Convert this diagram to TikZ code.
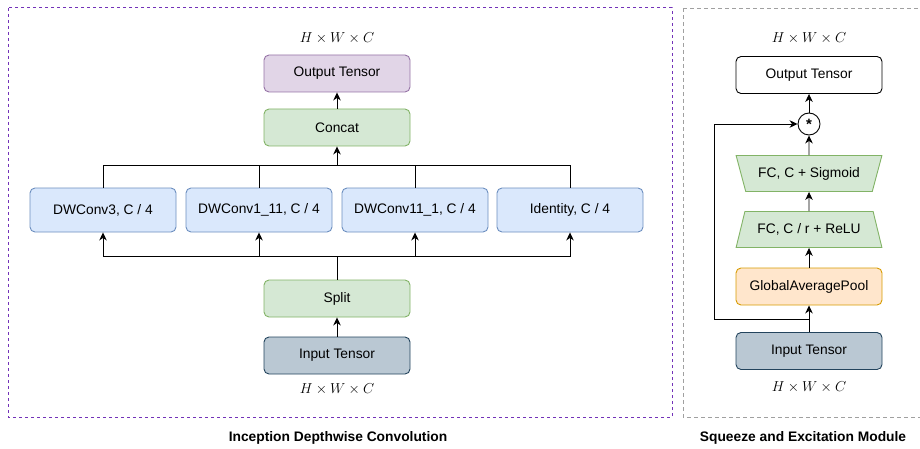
\documentclass[tikz,border=0pt]{standalone}
\usepackage{fontspec}
\setmainfont{Liberation Sans}
\usetikzlibrary{arrows.meta,shapes.geometric}
\definecolor{purpfill}{HTML}{E1D5E7}
\definecolor{purpline}{HTML}{9673A6}
\definecolor{grfill}{HTML}{D5E8D4}
\definecolor{grline}{HTML}{82B366}
\definecolor{blfill}{HTML}{DAE8FC}
\definecolor{blline}{HTML}{6C8EBF}
\definecolor{infill}{HTML}{BAC8D3}
\definecolor{inline}{HTML}{23445D}
\definecolor{orfill}{HTML}{FFE6CC}
\definecolor{orline}{HTML}{D79B00}
\definecolor{dashpurp}{RGB}{115,50,185}
\definecolor{dashgray}{RGB}{160,160,160}
\newcommand{\hwc}{\fontsize{13.5}{15}\selectfont$H\times W\times C$}
\tikzset{
  every node/.style={font=\fontsize{13.8}{15}\selectfont},
  box/.style={draw, rounded corners=5pt, minimum width=146pt, minimum height=37pt, inner sep=0pt, line width=0.9pt},
  outbox/.style={box, fill=purpfill, draw=purpline},
  grbox/.style={box, fill=grfill, draw=grline},
  blbox/.style={box, fill=blfill, draw=blline},
  inbox/.style={box, fill=infill, draw=inline},
  orbox/.style={box, fill=orfill, draw=orline},
  wbox/.style={box, fill=white, draw=black},
  trap/.style={trapezium, trapezium stretches=true, draw=grline, fill=grfill, line width=0.9pt, minimum width=146pt, minimum height=36pt, trapezium left angle=59, trapezium right angle=59, inner sep=0pt},
  conn/.style={line width=0.9pt, draw=black},
  arr/.style={conn, -{Stealth[length=8pt,width=7.5pt,inset=2.5pt]}},
  title/.style={font=\fontsize{13.8}{15}\selectfont\bfseries},
}
\begin{document}
\begin{tikzpicture}[x=1pt,y=-1pt]
\useasboundingbox (0,0) rectangle (920,449);
% frames
\draw[draw=dashpurp, line width=1pt, dash pattern=on 3pt off 3pt] (8,8) rectangle (672,417);
\draw[draw=dashgray, line width=0.8pt, dash pattern=on 4pt off 3pt] (683,8) -- (920,8);
\draw[draw=dashgray, line width=0.8pt, dash pattern=on 4pt off 3pt] (683,8) -- (683,417) -- (920,417);

% left module
\node (lhwct) at (337,38) {\hwc};
\node[outbox] (lout) at (337,73.5) {Output Tensor};
\node[grbox] (concat) at (337,127.5) {Concat};
\node[blbox, minimum height=44pt] (dw1) at (103,210) {DWConv3, C / 4};
\node[blbox, minimum height=44pt] (dw2) at (259,210) {DWConv1\_11, C / 4};
\node[blbox, minimum height=44pt] (dw3) at (415,210) {DWConv11\_1, C / 4};
\node[blbox, minimum height=44pt] (dw4) at (570,210) {Identity, C / 4};
\node[grbox] (split) at (337,298.5) {Split};
\node[inbox] (lin) at (337,355.5) {Input Tensor};
\node (lhwcb) at (337,389) {\hwc};
\node[title] (ltitle) at (338,438) {Inception Depthwise Convolution};

\coordinate (jtop) at (337,165);
\coordinate (jbot) at (337,256);

\draw[arr] (concat) -- (lout);
\draw[arr] (jtop) -- (concat);
\foreach \n in {dw1,dw2,dw3,dw4} {
  \draw[conn] (\n.north) |- (jtop);
  \draw[arr] (jbot) -| (\n.south);
}
\draw[conn] (split.north) -- (jbot);
\draw[arr] (lin) -- (split);

% right module
\node (rhwct) at (809,38) {\hwc};
\node[wbox] (rout) at (809,75) {Output Tensor};
\node[circle, draw, line width=0.9pt, minimum size=22pt, inner sep=0pt, font=\fontsize{15}{15}\selectfont\bfseries] (mul) at (809,124) {\raisebox{-3pt}{*}};
\node[trap, shape border rotate=180] (sig) at (809,173.5) {FC, C + Sigmoid};
\node[trap] (relu) at (809,229.5) {FC, C / r + ReLU};
\node[orbox] (gap) at (809,286.5) {GlobalAveragePool};
\node[inbox] (rin) at (809,351) {Input Tensor};
\node (rhwcb) at (809,387) {\hwc};
\node[title] (rtitle) at (803,438) {Squeeze and Excitation Module};

\coordinate (skip) at (809,319);
\coordinate (skipl) at (714,319);
\draw[arr] (mul) -- (rout);
\draw[arr] (sig) -- (mul);
\draw[arr] (relu) -- (sig);
\draw[arr] (gap) -- (relu);
\draw[arr] (rin) -- (gap);
\draw[arr] (skip) -- (skipl) |- (mul.west);
\end{tikzpicture}
\end{document}
